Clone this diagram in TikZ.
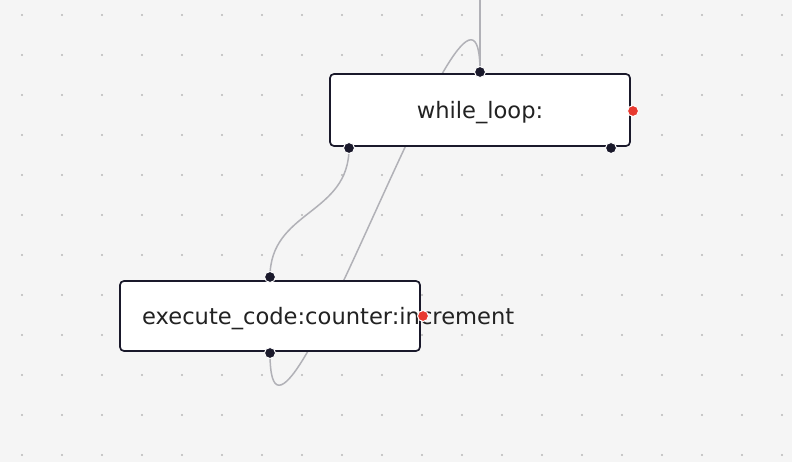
\documentclass[tikz,border=0pt]{standalone}
\usepackage{fontspec}
\setmainfont{DejaVu Sans}
\definecolor{bg}{HTML}{F5F5F5}
\definecolor{dotc}{HTML}{B8B8B8}
\definecolor{edgec}{HTML}{B1B1B7}
\definecolor{navy}{HTML}{1A192B}
\definecolor{portred}{HTML}{E8392F}
\definecolor{txt}{HTML}{222222}
\tikzset{
  flowbox/.style={draw=navy, line width=1.7pt, fill=white, rounded corners=4pt},
  flowedge/.style={draw=edgec, line width=1.5pt},
  portdark/.style={circle, fill=navy, draw=white, line width=1pt, minimum size=11pt, inner sep=0pt},
  portred/.style={circle, fill=portred, draw=white, line width=1pt, minimum size=11pt, inner sep=0pt},
  lbl/.style={font=\fontsize{22.6}{26}\selectfont, text=txt, inner sep=0pt}
}
\begin{document}
\begin{tikzpicture}[x=1pt,y=-1pt]
\fill[bg] (0,0) rectangle (792,462);
\useasboundingbox (0,0) rectangle (792,462);
\foreach \i in {0,...,19}{
  \foreach \j in {0,...,11}{
    \fill[dotc] (22+40*\i,15+40*\j) circle (1.1pt);
  }
}
% port coordinates
\coordinate (wtop) at (480,72);
\coordinate (wbl) at (349,148);
\coordinate (wbr) at (611,148);
\coordinate (wr) at (633,111);
\coordinate (etop) at (270,277);
\coordinate (ebot) at (270,353);
\coordinate (er) at (423,316);
\coordinate (above) at (480,-10);
% edges
\draw[flowedge] (above) -- (wtop);
\draw[flowedge] (ebot) .. controls (270,533) and (480,-108) .. (wtop);
\draw[flowedge] (wbl) .. controls (349,215) and (270,210) .. (etop);
% boxes
\draw[flowbox] (330,74) rectangle (630,146);
\draw[flowbox] (120,281) rectangle (420,351);
\node[lbl, anchor=base] (wl) at (480,119) {while\_loop:};
\node[lbl, anchor=base west] (el) at (142,324) {execute\_code:counter:increment};
% ports
\node[portdark] (p1) at (wtop) {};
\node[portdark] (p2) at (wbl) {};
\node[portdark] (p3) at (wbr) {};
\node[portred] (p4) at (wr) {};
\node[portdark] (p5) at (etop) {};
\node[portdark] (p6) at (ebot) {};
\node[portred] (p7) at (er) {};
\end{tikzpicture}
\end{document}
